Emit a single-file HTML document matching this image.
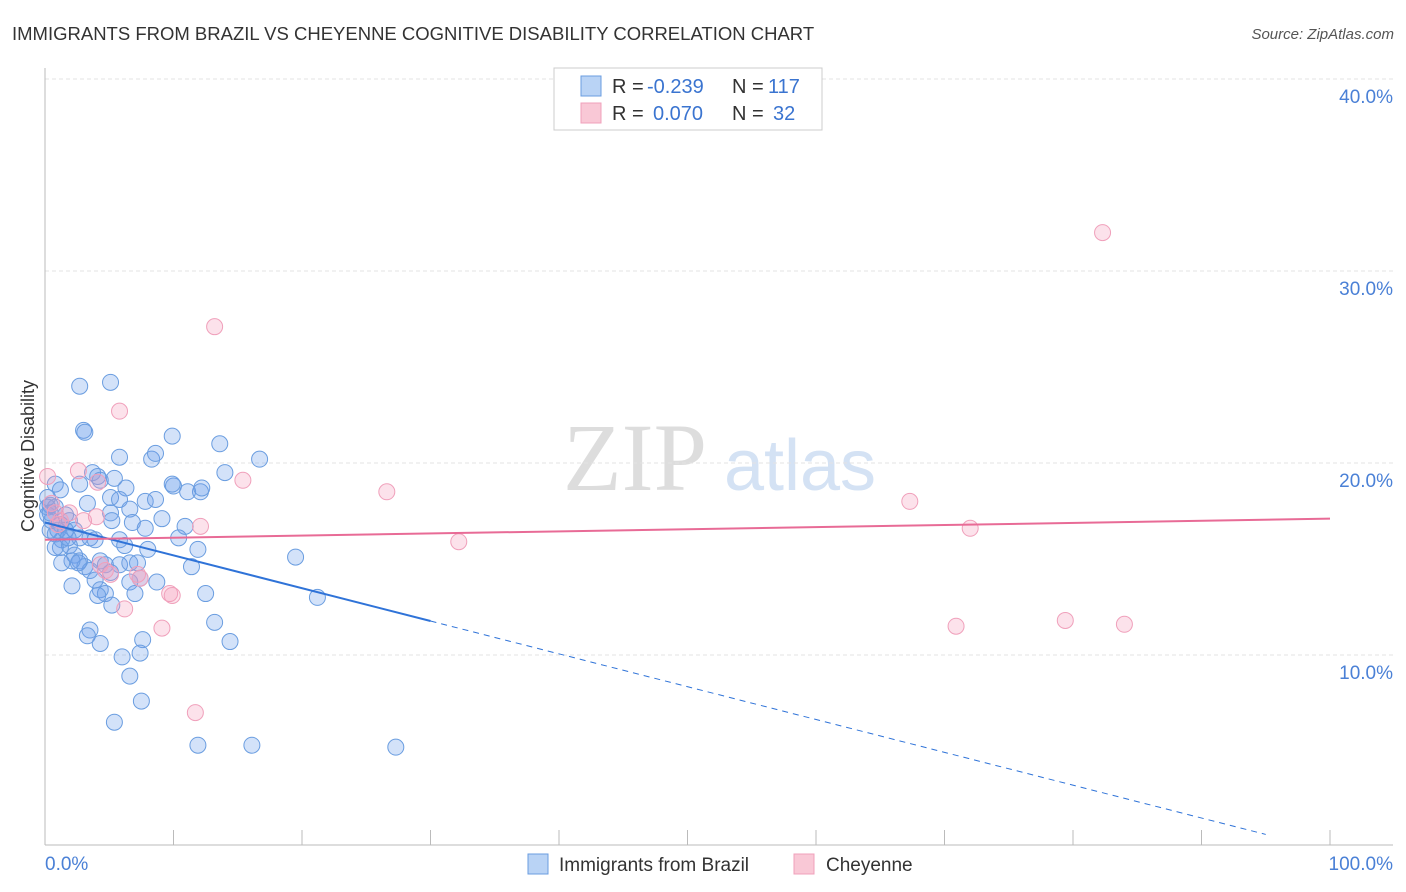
<!DOCTYPE html>
<html><head><meta charset="utf-8"><style>
body{margin:0;background:#fff;font-family:"Liberation Sans",sans-serif;}
#c{position:relative;width:1406px;height:892px;overflow:hidden;}
</style></head><body>
<div id="c">
<svg id="s" width="1406" height="892" xmlns="http://www.w3.org/2000/svg">
<text x="12" y="40" font-size="18.5" fill="#333">IMMIGRANTS FROM BRAZIL VS CHEYENNE COGNITIVE DISABILITY CORRELATION CHART</text>
<text x="1394" y="39" font-size="15" fill="#555" text-anchor="end" font-style="italic">Source: ZipAtlas.com</text>
<text transform="translate(34,456) rotate(-90)" font-size="18" fill="#333" text-anchor="middle">Cognitive Disability</text>
<g><text x="635" y="490" font-size="96" fill="#ddd" text-anchor="middle" font-family="Liberation Serif">ZIP</text><text x="800" y="490" font-size="72" fill="#d4e2f4" text-anchor="middle">atlas</text></g>
<g id="grid"></g>
<g id="axes"></g>
<g id="pts"></g>
<g id="trends"></g>
<g>
<rect x="554" y="68" width="268" height="62" fill="#fff" stroke="#ccc"/>
<rect x="581" y="76" width="20" height="20" fill="#b9d3f5" stroke="#6a9de0"/>
<rect x="581" y="103" width="20" height="20" fill="#f9c8d6" stroke="#f0a0bb"/>
<text x="612" y="93" font-size="20" fill="#333">R =</text>
<text x="647" y="93" font-size="20" fill="#3a74d0">-0.239</text>
<text x="732" y="93" font-size="20" fill="#333">N =</text>
<text x="768" y="93" font-size="20" fill="#3a74d0">117</text>
<text x="612" y="120" font-size="20" fill="#333">R =</text>
<text x="653" y="120" font-size="20" fill="#3a74d0">0.070</text>
<text x="732" y="120" font-size="20" fill="#333">N =</text>
<text x="773" y="120" font-size="20" fill="#3a74d0">32</text>
</g>
<g>
<rect x="528" y="854" width="20" height="20" fill="#b9d3f5" stroke="#6a9de0"/>
<text x="559" y="871" font-size="19" fill="#333">Immigrants from Brazil</text>
<rect x="794" y="854" width="20" height="20" fill="#f9c8d6" stroke="#f0a0bb"/>
<text x="826" y="871" font-size="19" fill="#333">Cheyenne</text>
</g>
</svg></div>
<script>
const yTicks=[10,20,30,40];
const xTickLabels=["0.0%","100.0%"];
const blueX=[2.7,5.1,3.0,3.1,9.9,13.6,5.8,8.3,8.6,16.7,3.7,14.0,4.1,4.3,5.4,2.7,6.3,10.0,12.1,11.1,9.9,12.2,0.8,1.2,5.1,5.8,7.8,8.6,3.3,0.4,0.8,6.6,5.1,5.2,9.1,6.8,7.8,10.9,1.6,1.9,1.2,2.3,0.4,0.8,1.3,2.7,3.5,3.9,5.8,6.2,8.0,10.4,11.9,1.2,1.9,2.3,2.7,4.3,4.7,5.8,6.6,7.2,19.5,11.4,3.1,3.5,5.1,7.4,3.9,6.6,8.7,2.1,4.3,4.7,7.0,4.1,12.5,21.2,5.2,3.5,3.3,13.2,4.3,7.6,14.4,7.4,6.0,6.6,7.5,5.4,11.9,16.1,27.3,0.2,0.2,0.5,1.0,1.6,1.8,2.1,2.6,1.3,0.8,0.2,0.4];
const blueY=[24.0,24.2,21.7,21.6,21.4,21.0,20.3,20.2,20.5,20.2,19.5,19.5,19.3,19.1,19.2,18.9,18.7,18.8,18.5,18.5,18.9,18.7,18.9,18.6,18.2,18.1,18.0,18.1,17.9,17.8,17.7,17.6,17.4,17.0,17.1,16.9,16.6,16.7,17.3,17.0,16.8,16.5,16.5,16.3,16.0,16.1,16.1,16.0,16.0,15.7,15.5,16.1,15.5,15.6,15.7,15.2,14.9,14.9,14.7,14.7,14.8,14.8,15.1,14.6,14.6,14.4,14.3,14.0,13.9,13.8,13.8,13.6,13.4,13.2,13.2,13.1,13.2,13.0,12.6,11.3,11.0,11.7,10.6,10.8,10.7,10.1,9.9,8.9,7.6,6.5,5.3,5.3,5.2,18.2,17.7,17.0,16.5,16.5,16.1,14.9,14.8,14.8,15.6,17.3,17.4];
const pinkX=[82.3,13.2,5.8,2.6,0.2,15.4,26.6,67.3,1.9,4.0,12.1,72.0,32.2,4.3,4.7,7.2,9.7,9.9,6.2,9.1,70.9,79.4,84.0,11.7,0.8,1.2,7.4,5.1,4.1,1.0,3.0,0.5];
const pinkY=[32.0,27.1,22.7,19.6,19.3,19.1,18.5,18.0,17.4,17.2,16.7,16.6,15.9,14.7,14.4,14.2,13.2,13.1,12.4,11.4,11.5,11.8,11.6,7.0,17.4,17.0,14.0,14.2,19.0,16.8,17.0,17.9];
const blueTrend=[16.9,-0.171];
const pinkTrend=[16.0,0.011];
const NS="http://www.w3.org/2000/svg";
const X=v=>45+v*12.85, Y=v=>847-v*19.2;
function mk(t,a,p){const e=document.createElementNS(NS,t);for(const k in a)e.setAttribute(k,a[k]);p.appendChild(e);return e;}
const grid=document.getElementById('grid'),axes=document.getElementById('axes');
yTicks.forEach(t=>{
 const l=mk('line',{x1:45,x2:1393,y1:Y(t),y2:Y(t),stroke:'#e3e3e3','stroke-dasharray':'4,3'},grid);
 
 
 const tx=mk('text',{x:1393,y:Y(t)+24,'font-size':19,fill:'#4a80d6','text-anchor':'end'},axes);
 tx.textContent=t.toFixed(1)+'%';
 
 
});
mk('line',{x1:45,x2:45,y1:68,y2:845,stroke:'#bbb'},axes);
mk('line',{x1:45,x2:1393,y1:845,y2:845,stroke:'#bbb'},axes);
for(let i=0;i<=10;i++){const t=mk('line',{x1:X(i*10),x2:X(i*10),y1:830,y2:845,stroke:'#bbb'},axes);
 
 }
[[0,'start',45],[1,'end',1393]].forEach(([i,a,x])=>{const t=mk('text',{x:x,y:870,'font-size':19,fill:'#4a80d6','text-anchor':a},axes);t.textContent=xTickLabels[i];
 
 });
const pts=document.getElementById('pts');
blueX.forEach((x,i)=>{const c=mk('circle',{cx:X(x),cy:Y(blueY[i]),r:8,fill:'rgba(110,160,235,0.3)',stroke:'#6a9de0','stroke-width':1},pts);
 
 });
pinkX.forEach((x,i)=>{const c=mk('circle',{cx:X(x),cy:Y(pinkY[i]),r:8,fill:'rgba(245,160,190,0.3)',stroke:'#f0a0bb','stroke-width':1},pts);
 
 });
const tr=document.getElementById('trends');
const bf=x=>blueTrend[0]+blueTrend[1]*x;
let l1=mk('line',{x1:X(0),y1:Y(bf(0)),x2:X(30),y2:Y(bf(30)),stroke:'#2f73d8','stroke-width':2},tr);


let l2=mk('line',{x1:X(30),y1:Y(bf(30)),x2:X(95),y2:Y(bf(95)),stroke:'#2f73d8','stroke-width':1,'stroke-dasharray':'6,5'},tr);


const pf=x=>pinkTrend[0]+pinkTrend[1]*x;
let l3=mk('line',{x1:X(0),y1:Y(pf(0)),x2:X(100),y2:Y(pf(100)),stroke:'#e86b96','stroke-width':2},tr);


</script>
</body></html>
